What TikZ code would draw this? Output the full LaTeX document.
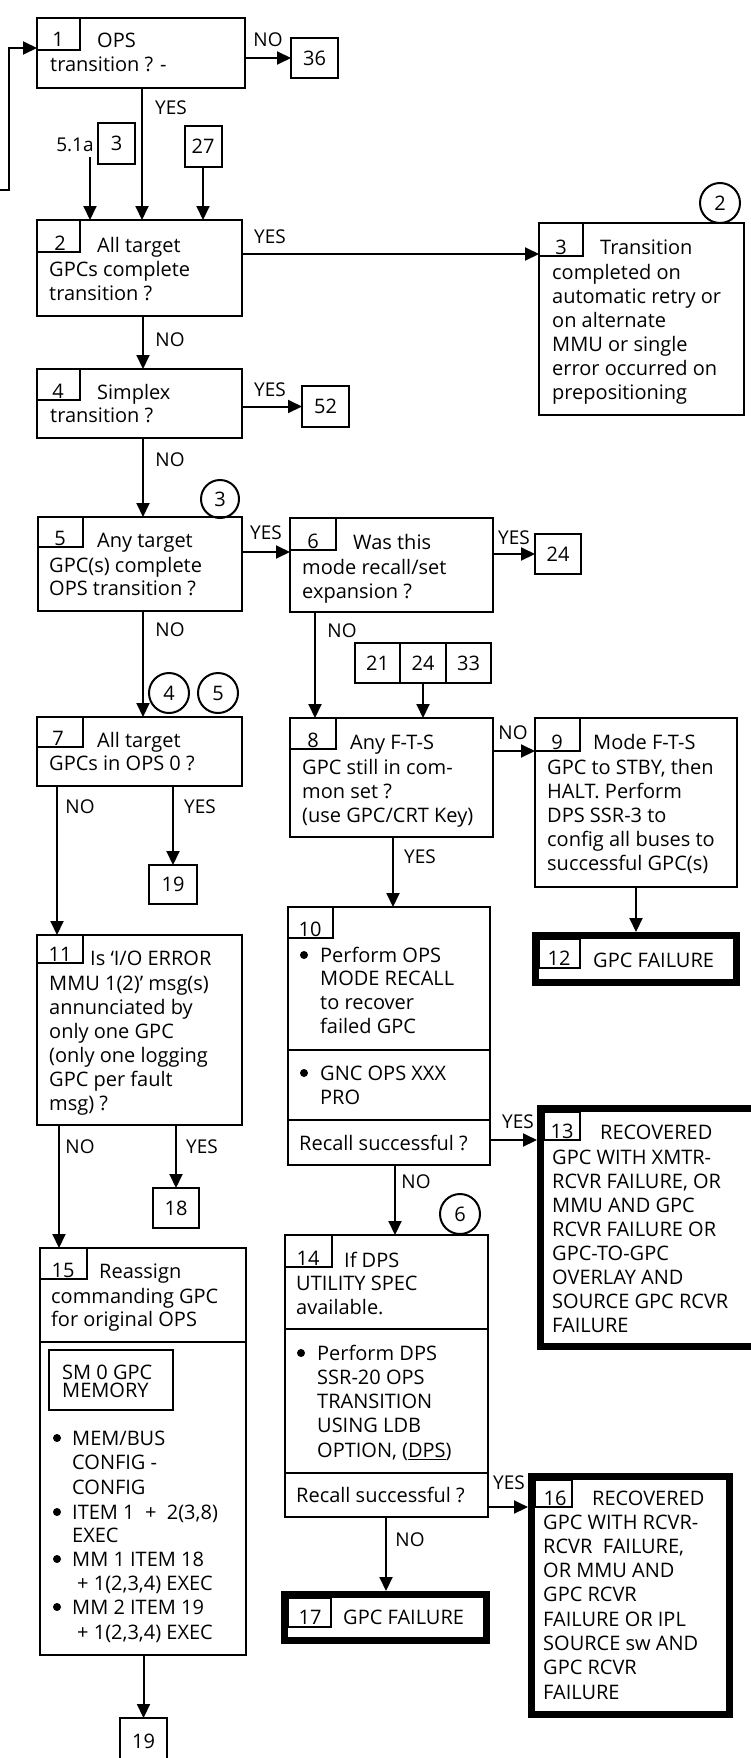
\documentclass[tikz,border=0pt]{standalone}
\usepackage{fontspec}
\setmainfont{Open Sans}
\usetikzlibrary{arrows.meta}
\newcommand\fs{\fontsize{20}{24}\selectfont}
\newcommand\fl{\fontsize{19}{22}\selectfont}
\newcommand\bx[6][]{\node[box,#1,anchor=north west,minimum width={#5-#3},minimum height={#6-#4}] (#2) at (#3,#4) {};}
\newcommand\putlines[5]{\foreach \ltext [count=\li] in {#5} {\node[txt] (#1-\li) at (#2,{#3+#4*(\li-1)}) {\ltext};}}
\begin{document}
\begin{tikzpicture}[x=1pt,y=-1pt,
  box/.style={draw,line width=2pt,inner sep=0pt,outer sep=0pt},
  thickbox/.style={line width=7pt,outer sep=3.5pt},
  refbox/.style={draw,line width=2pt,inner sep=0pt,outer sep=0pt,minimum width=46pt,minimum height=40pt,font=\fs},
  txt/.style={anchor=base west,inner sep=0pt,font=\fs},
  num/.style={anchor=base,inner sep=0pt,font=\fs},
  lbl/.style={inner sep=0pt,font=\fl},
  bul/.style={circle,fill,inner sep=0pt,minimum size=8pt},
  conn/.style={draw,circle,line width=2pt,minimum size=40pt,inner sep=0pt,font=\fs},
  arr/.style={line width=2pt,-{Triangle[length=14pt,width=13pt]}},
  divl/.style={line width=2pt}]
\useasboundingbox (0,0) rectangle (751,1758);
\clip (0,0) rectangle (751,1758);

% ---------- Box 1
\bx{b1}{37}{18}{245}{88}
\bx{t1}{37}{18}{80}{50}
\node[num] (n1) at (58,47) {1};
\node[txt] (b1-a) at (97,48) {OPS};
\node[txt] (b1-b) at (50,72) {transition ? -};
\node[refbox,minimum width=47pt] (r36) at (314.5,58) {36};
\node[lbl] (l1) at (268,40) {NO};
\coordinate (fbs) at (0,190);
\draw[arr] (fbs) -- (9,190) -- (9,48) -- (b1.west |- 0,48);
\draw[arr] (b1.east |- r36) -- (r36.west);

% ---------- entries to box 2
\node[lbl] (l2) at (171,108) {YES};
\node[refbox,minimum width=37pt,minimum height=41pt] (r3) at (116.5,143.5) {3};
\node[lbl] (l51) at (75,145) {5.1a};
\coordinate (s51) at (90,157);
\node[refbox,minimum width=37pt,minimum height=41pt] (r27) at (203,146.5) {27};

% ---------- Box 2
\bx{b2}{37}{220}{242}{316}
\bx{t2}{37}{220}{80}{252}
\node[num] (n2) at (60,250) {2};
\node[txt] (b2-a) at (97,252) {All target};
\putlines{b2l}{49}{276}{24}{GPCs complete,transition ?}
\draw[arr] (b1.south -| 142,0) -- (b2.north -| 142,0);
\draw[arr] (s51) -- (b2.north -| s51);
\draw[arr] (r27.south) -- (r27.south |- b2.north);

% ---------- Box 3
\bx{b3}{539}{223}{744}{415}
\bx{t3}{539}{223}{583}{256}
\node[num] (n3) at (561,254) {3};
\node[txt] (b3-a) at (600,254) {Transition};
\putlines{b3l}{552}{279}{24}{completed on,automatic retry or,on alternate,MMU or single,error occurred on,prepositioning}
\node[conn] (c2) at (720,203) {2};
\node[lbl] (l3) at (270,237) {YES};
\draw[arr] (b2.east |- 0,254) -- (b3.west |- 0,254);

% ---------- Box 4
\bx{b4}{37}{369}{242}{438}
\bx{t4}{37}{369}{80}{400}
\node[num] (n4) at (58,398) {4};
\node[txt] (b4-a) at (97,399) {Simplex};
\node[txt] (b4-b) at (50,422) {transition ?};
\node[refbox,minimum width=47pt,minimum height=41pt] (r52) at (325.5,406.5) {52};
\node[lbl] (l4) at (170,340) {NO};
\node[lbl] (l5) at (270,390) {YES};
\draw[arr] (b2.south -| 143,0) -- (b4.north -| 143,0);
\draw[arr] (b4.east |- r52) -- (r52.west);

% ---------- Box 5
\bx{b5}{38}{517}{242}{611}
\bx{t5}{38}{517}{83}{547}
\node[num] (n5) at (60,545) {5};
\node[txt] (b5-a) at (97,547) {Any target};
\putlines{b5l}{49}{572}{23.5}{GPC(s) complete,OPS transition ?}
\node[conn,minimum size=38pt] (c3) at (220,499) {3};
\node[lbl] (l6) at (170,460) {NO};
\draw[arr] (b4.south -| 143,0) -- (b5.north -| 143,0);

% ---------- Box 6
\bx{b6}{290}{518}{493}{612}
\bx{t6}{290}{518}{336}{550}
\node[num] (n6) at (313,548) {6};
\node[txt] (b6-a) at (353,549) {Was this};
\putlines{b6l}{302}{574}{24}{mode recall/set,expansion ?}
\node[refbox] (r24) at (558,554) {24};
\node[lbl] (l7) at (266,533) {YES};
\node[lbl] (l8) at (514,538) {YES};
\draw[arr] (b5.east |- 0,552) -- (b6.west |- 0,552);
\draw[arr] (b6.east |- r24) -- (r24.west);

% ---------- Box 7
\bx{b7}{37}{717}{242}{786}
\bx{t7}{37}{717}{83}{747}
\node[num] (n7) at (58,745) {7};
\node[txt] (b7-a) at (97,747) {All target};
\node[txt] (b7-b) at (49,770) {GPCs in OPS 0 ?};
\node[conn] (c4) at (169,693) {4};
\node[conn] (c5) at (218,693) {5};
\node[lbl] (l9) at (170,630) {NO};
\draw[arr] (b5.south -| 143,0) -- (b7.north -| 143,0);
\node[refbox,minimum width=48pt,minimum height=39pt] (r19a) at (173,884.5) {19};
\node[lbl] (l10) at (80,807) {NO};
\node[lbl] (l11) at (200,807) {YES};
\draw[arr] (b7.south -| r19a) -- (r19a.north);

% ---------- Box 8 and entries
\node[refbox,minimum width=45pt] (c21) at (377.5,663) {21};
\node[refbox,minimum width=46pt] (c24) at (423,663) {24};
\node[refbox,minimum width=45pt] (c33) at (468.5,663) {33};
\node[lbl] (l12) at (342,631) {NO};
\bx{b8}{290}{718}{493}{837}
\bx{t8}{290}{718}{336}{749}
\node[num] (n8) at (313,747) {8};
\node[txt] (b8-a) at (350,749) {Any F-T-S};
\putlines{b8l}{302}{774}{24}{GPC still in com-,mon set ?,{(use GPC/CRT Key)}}
\draw[arr] (b6.south -| 315,0) -- (b8.north -| 315,0);
\draw[arr] (c24.south) -- (c24.south |- b8.north);

% ---------- Box 9
\bx{b9}{535}{718}{737}{887}
\bx{t9}{535}{718}{580}{751}
\node[num] (n9) at (557,749) {9};
\node[txt] (b9-a) at (593,749) {Mode F-T-S};
\putlines{b9l}{547}{774}{24}{{GPC to STBY, then},HALT.  Perform,DPS SSR-3 to,config all buses to,successful GPC(s)}
\node[lbl] (l13) at (513,733) {NO};
\draw[arr] (b8.east |- 0,751) -- (b9.west |- 0,751);

% ---------- Box 12
\bx[thickbox]{b12}{532}{932}{733}{979}
\bx{t12}{539}{939}{580}{968}
\node[num] (n12) at (559,965) {12};
\node[txt] (b12-a) at (593,967) {GPC FAILURE};
\draw[arr] (b9.south -| b12.north) -- (b12.north);

% ---------- Box 10
\bx{b10}{288}{907}{490}{1165}
\bx{t10}{288}{907}{333}{938}
\node[num] (n10) at (310,936) {10};
\node[bul] (b10u1) at (304,955) {};
\putlines{b10l}{320}{962}{23.7}{Perform OPS,MODE RECALL,to recover,failed GPC}
\draw[divl] (b10.west |- 0,1050) -- (b10.east |- 0,1050);
\node[bul] (b10u2) at (304,1073) {};
\putlines{b10m}{320}{1080}{24}{GNC OPS XXX,PRO}
\draw[divl] (b10.west |- 0,1120) -- (b10.east |- 0,1120);
\node[txt] (b10-r) at (299,1150) {Recall successful ?};
\node[lbl] (l14) at (420,857) {YES};
\draw[arr] (b8.south -| 393,0) -- (b10.north -| 393,0);

% ---------- Box 13
\bx[thickbox]{b13}{537}{1105}{753}{1343}
\bx{t13}{544}{1112}{580}{1140}
\node[num] (n13) at (562,1138) {13};
\node[txt] (b13-a) at (600,1139) {RECOVERED};
\putlines{b13l}{552}{1164}{24}{GPC WITH XMTR-,{RCVR FAILURE, OR},MMU AND GPC,RCVR FAILURE OR,GPC-TO-GPC,OVERLAY AND,SOURCE GPC RCVR,FAILURE}
\node[lbl] (l15) at (518,1122) {YES};
\draw[arr] (b10.east |- 0,1140) -- (b13.west |- 0,1140);

% ---------- Box 11
\bx{b11}{37}{935}{242}{1125}
\bx{t11}{37}{935}{83}{963}
\node[num] (n11) at (60,961) {11};
\node[txt] (b11-a) at (90,965) {Is `I/O ERROR};
\putlines{b11l}{49}{990}{24}{{MMU 1(2)' msg(s)},annunciated by,only one GPC,{(only one logging},GPC per fault,{msg) ?}}
\draw[arr] (b7.south -| 57,0) -- (b11.north -| 57,0);
\node[refbox,minimum width=46pt] (r18) at (176,1208) {18};
\node[lbl] (l16) at (80,1147) {NO};
\node[lbl] (l17) at (202,1147) {YES};
\draw[arr] (b11.south -| r18) -- (r18.north);

% ---------- Box 14
\node[conn] (c6) at (460,1214) {6};
\bx{b14}{285}{1235}{488}{1517}
\bx{t14}{285}{1235}{332}{1267}
\node[num] (n14) at (308,1265) {14};
\node[txt] (b14-a) at (344,1267) {If DPS};
\putlines{b14l}{296}{1290}{24}{UTILITY SPEC,available.}
\draw[divl] (b14.west |- 0,1329) -- (b14.east |- 0,1329);
\node[bul] (b14u1) at (301,1353) {};
\putlines{b14m}{317}{1360}{24.3}{Perform DPS,SSR-20 OPS,TRANSITION,USING LDB,{OPTION, (\underline{DPS})}}
\draw[divl] (b14.west |- 0,1473) -- (b14.east |- 0,1473);
\node[txt] (b14-r) at (296,1502) {Recall successful ?};
\node[lbl] (l18) at (416,1182) {NO};
\draw[arr] (b10.south -| 395,0) -- (b14.north -| 395,0);

% ---------- Box 16
\bx[thickbox]{b16}{528}{1473}{726}{1711}
\bx{t16}{535}{1480}{572}{1507}
\node[num] (n16) at (555,1505) {16};
\node[txt] (b16-a) at (592,1505) {RECOVERED};
\putlines{b16l}{543}{1529}{24.3}{GPC WITH RCVR-,{RCVR\ \ FAILURE,},OR MMU AND,GPC RCVR,FAILURE OR IPL,SOURCE sw AND,GPC RCVR,FAILURE}
\node[lbl] (l19) at (509,1483) {YES};
\draw[arr] (b14.east |- 0,1507) -- (b16.west |- 0,1507);

% ---------- Box 17
\bx[thickbox]{b17}{281}{1591}{483}{1637}
\bx{t17}{288}{1598}{331}{1627}
\node[num] (n17) at (310,1624) {17};
\node[txt] (b17-a) at (343,1624) {GPC FAILURE};
\node[lbl] (l20) at (410,1540) {NO};
\draw[arr] (b14.south -| 386,0) -- (b17.north -| 386,0);

% ---------- Box 15
\bx{b15}{40}{1248}{246}{1655}
\bx{t15}{40}{1248}{87}{1279}
\node[num] (n15) at (63,1277) {15};
\node[txt] (b15-a) at (99,1278) {Reassign};
\putlines{b15l}{51}{1303}{23.5}{commanding GPC,for original OPS}
\draw[divl] (b15.west |- 0,1342) -- (b15.east |- 0,1342);
\bx{sm}{49}{1350}{173}{1410}
\putlines{sml}{62}{1379}{18}{SM 0 GPC,MEMORY}
\node[bul] (b15u1) at (57,1438) {};
\putlines{b15m}{72}{1445}{24.5}{MEM/BUS,CONFIG -,CONFIG}
\node[bul] (b15u2) at (57,1512) {};
\putlines{b15n}{72}{1519}{23.5}{{ITEM 1 \ + \ 2(3,8)},EXEC}
\node[bul] (b15u3) at (57,1559) {};
\node[txt] (b15-o1) at (72,1566) {MM 1 ITEM 18};
\node[txt] (b15-o2) at (77,1590) {+ 1(2,3,4) EXEC};
\node[bul] (b15u4) at (57,1607) {};
\node[txt] (b15-p1) at (72,1614) {MM 2 ITEM 19};
\node[txt] (b15-p2) at (77,1639) {+ 1(2,3,4) EXEC};
\draw[arr] (b11.south -| 59,0) -- (b15.north -| 59,0);
\node[refbox,minimum width=47pt,minimum height=52pt] (r19b) at (143.5,1744) {};
\node[num] (r19bt) at (143.5,1748) {19};
\draw[arr] (b15.south -| r19b) -- (r19b.north);
\end{tikzpicture}
\end{document}
